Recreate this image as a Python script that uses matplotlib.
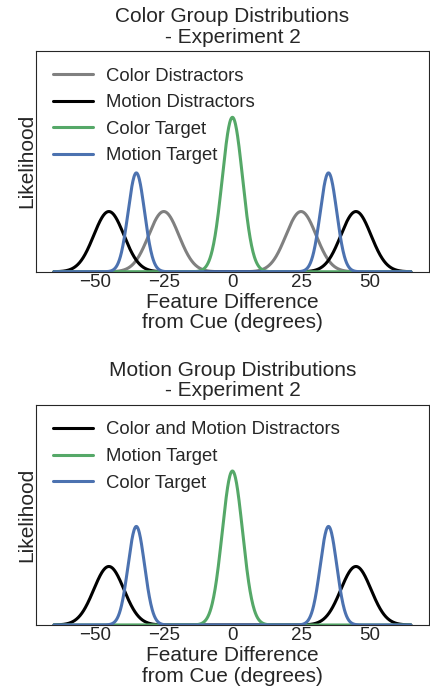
"""Color / motion group distributions - Experiment 2."""

import numpy as np
import matplotlib
matplotlib.use("Agg")
import matplotlib.pyplot as plt
import seaborn as sns

sns.set_style("white")
plt.rcParams["font.family"] = ["Liberation Sans", "DejaVu Sans"]

deep = sns.color_palette("deep")
GREEN, BLUE = deep[2], deep[0]

# feature difference grid (degrees)
x_min, x_max = -65, 65

# Color group: label, colour, centres, sd, peak height
color_labels = ["Color Distractors", "Motion Distractors", "Color Target", "Motion Target"]
color_colors = ["grey", "black", GREEN, BLUE]
color_means = [[-25, 25], [-45, 45], [0], [-35, 35]]
color_sds = [5.5, 5.5, 3.7, 3.0]
color_peaks = [0.39, 0.39, 1.0, 0.64]

# Motion group
motion_labels = ["Color and Motion Distractors", "Motion Target", "Color Target"]
motion_colors = ["black", GREEN, BLUE]
motion_means = [[-45, 45], [0], [-35, 35]]
motion_sds = [5.5, 3.7, 3.0]
motion_peaks = [0.38, 1.0, 0.64]


def curve(xs, means, sd, peak):
    return sum(peak * np.exp(-0.5 * ((xs - m) / sd) ** 2) for m in means)


def draw(ax, title, labels, colors, means, sds, peaks):
    xs = np.linspace(x_min, x_max, 1000)
    for lab, col, mu, sd, pk in zip(labels, colors, means, sds, peaks):
        ax.plot(xs, curve(xs, mu, sd, pk), color=col, linewidth=2.2, label=lab)
    ax.set_xlim(-71.5, 71.5)
    ax.set_ylim(0, 1.43)
    ax.set_xticks([-50, -25, 0, 25, 50])
    ax.set_yticks([])
    ax.tick_params(axis="x", labelsize=13.5, pad=1.5, length=0)
    ax.set_title(title, fontsize=15, pad=6, linespacing=1.08)
    ax.set_xlabel("Feature Difference\nfrom Cue (degrees)", fontsize=15,
                  labelpad=1.5, linespacing=1.1)
    ax.set_ylabel("Likelihood", fontsize=15, labelpad=0)
    ax.legend(loc="upper left", frameon=False, fontsize=13.3,
              handlelength=2.2, handletextpad=0.7, labelspacing=0.52,
              borderaxespad=0.5)


fig = plt.figure(figsize=(4.3, 6.88), dpi=100)
ax1 = fig.add_axes([0.084, 0.605, 0.913, 0.321])
ax2 = fig.add_axes([0.084, 0.0916, 0.913, 0.320])

draw(ax1, "Color Group Distributions\n- Experiment 2",
     color_labels, color_colors, color_means, color_sds, color_peaks)
draw(ax2, "Motion Group Distributions\n- Experiment 2",
     motion_labels, motion_colors, motion_means, motion_sds, motion_peaks)

fig.savefig("out.png", dpi=100)
